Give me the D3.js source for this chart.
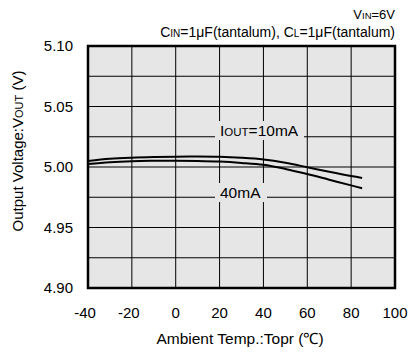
<!DOCTYPE html>
<html>
<head>
<meta charset="utf-8">
<script src="https://cdn.jsdelivr.net/npm/d3@7"></script>
<style>
  body { margin: 0; background: #fff; }
  svg { display: block; font-family: "Liberation Sans", Arial, sans-serif; }
  .grid line { stroke: #000; stroke-width: 1; }
  .tick-label { font-size: 15px; fill: #000; }
</style>
</head>
<body>
<svg id="chart" width="411" height="355"></svg>
<script>
// ── Data ──
const temps   = [-40, -30, -20, -10, 0, 10, 20, 30, 40, 50, 60, 70, 80, 85];
const vout10  = [5.0050, 5.0068, 5.0077, 5.0082, 5.0085, 5.0086, 5.0084, 5.0076, 5.0062, 5.0035, 4.9998, 4.9960, 4.9925, 4.9910];
const vout40  = [5.0025, 5.0040, 5.0048, 5.0051, 5.0052, 5.0050, 5.0045, 5.0034, 5.0018, 4.9984, 4.9942, 4.9895, 4.9848, 4.9824];
const xTicks  = [-40, -20, 0, 20, 40, 60, 80, 100];
const yTicks  = [4.90, 4.95, 5.00, 5.05, 5.10];
const yGrid   = [4.90, 4.925, 4.95, 4.975, 5.00, 5.025, 5.05, 5.075, 5.10];

// ── Dimensions ──
const plot = { left: 88, top: 46, right: 395, bottom: 288 };
const bg = "#e6e6e6";
const svg = d3.select("#chart");

const x = d3.scaleLinear().domain([-40, 100]).range([plot.left, plot.right]);
const y = d3.scaleLinear().domain([4.90, 5.10]).range([plot.bottom, plot.top]);

// plot background
svg.append("rect")
  .attr("x", plot.left).attr("y", plot.top)
  .attr("width", plot.right - plot.left)
  .attr("height", plot.bottom - plot.top)
  .attr("fill", bg);

// ── Grid ──
const grid = svg.append("g").attr("class", "grid");
grid.selectAll(".vg")
  .data(xTicks)
  .join("line")
  .attr("x1", d => x(d)).attr("x2", d => x(d))
  .attr("y1", plot.top).attr("y2", plot.bottom);
grid.selectAll(".hg")
  .data(yGrid)
  .join("line")
  .attr("x1", plot.left).attr("x2", plot.right)
  .attr("y1", d => y(d)).attr("y2", d => y(d));

// ── Curves ──
const line = d3.line()
  .x((d, i) => x(temps[i]))
  .y(d => y(d))
  .curve(d3.curveCatmullRom);

[vout10, vout40].forEach(s => {
  svg.append("path")
    .attr("d", line(s))
    .attr("fill", "none")
    .attr("stroke", "#000")
    .attr("stroke-width", 2);
});

// ── Curve labels (background knocks out the grid) ──
function curveLabel(tx, ty, w, parts) {
  svg.append("rect")
    .attr("x", tx - 5).attr("y", ty - 15)
    .attr("width", w).attr("height", 19)
    .attr("fill", bg);
  const t = svg.append("text")
    .attr("x", tx).attr("y", ty)
    .attr("font-size", 15.5);
  parts.forEach(p => t.append("tspan").attr("font-size", p[1]).text(p[0]));
}
curveLabel(220, 136, 89, [["I", 15.5], ["OUT", 11.5], ["=10mA", 15.5]]);
curveLabel(220, 198, 52, [["40mA", 15.5]]);

// frame
svg.append("rect")
  .attr("x", plot.left).attr("y", plot.top)
  .attr("width", plot.right - plot.left)
  .attr("height", plot.bottom - plot.top)
  .attr("fill", "none")
  .attr("stroke", "#000")
  .attr("stroke-width", 2.5);

// ── Tick labels ──
svg.selectAll(".xl")
  .data(xTicks)
  .join("text")
  .attr("class", "tick-label")
  .attr("x", d => x(d) - (d < 0 ? 3 : 0))
  .attr("y", 318)
  .attr("text-anchor", "middle")
  .text(d => d);

svg.selectAll(".yl")
  .data(yTicks)
  .join("text")
  .attr("class", "tick-label")
  .attr("x", 73)
  .attr("y", d => y(d))
  .attr("dy", "0.35em")
  .attr("text-anchor", "end")
  .text(d => d.toFixed(2));

// ── Axis titles ──
svg.append("text")
  .attr("x", 240).attr("y", 344)
  .attr("text-anchor", "middle")
  .attr("font-size", 15.5)
  .text("Ambient Temp.:Topr (\u2103)");

const yt = svg.append("text")
  .attr("transform", "translate(23,151) rotate(-90)")
  .attr("text-anchor", "middle")
  .attr("font-size", 15);
yt.append("tspan").text("Output Voltage:V");
yt.append("tspan").attr("font-size", 11).text("OUT");
yt.append("tspan").text(" (V)");

// ── Conditions ──
const n1 = svg.append("text")
  .attr("x", 395).attr("y", 19).attr("text-anchor", "end")
  .attr("font-size", 13);
n1.append("tspan").text("V");
n1.append("tspan").attr("font-size", 9.5).text("IN");
n1.append("tspan").text("=6V");

const n2 = svg.append("text")
  .attr("x", 395).attr("y", 37).attr("text-anchor", "end")
  .attr("font-size", 14);
n2.append("tspan").text("C");
n2.append("tspan").attr("font-size", 10).text("IN");
n2.append("tspan").text("=1\u03bcF(tantalum), C");
n2.append("tspan").attr("font-size", 10).text("L");
n2.append("tspan").text("=1\u03bcF(tantalum)");
</script>
</body>
</html>
